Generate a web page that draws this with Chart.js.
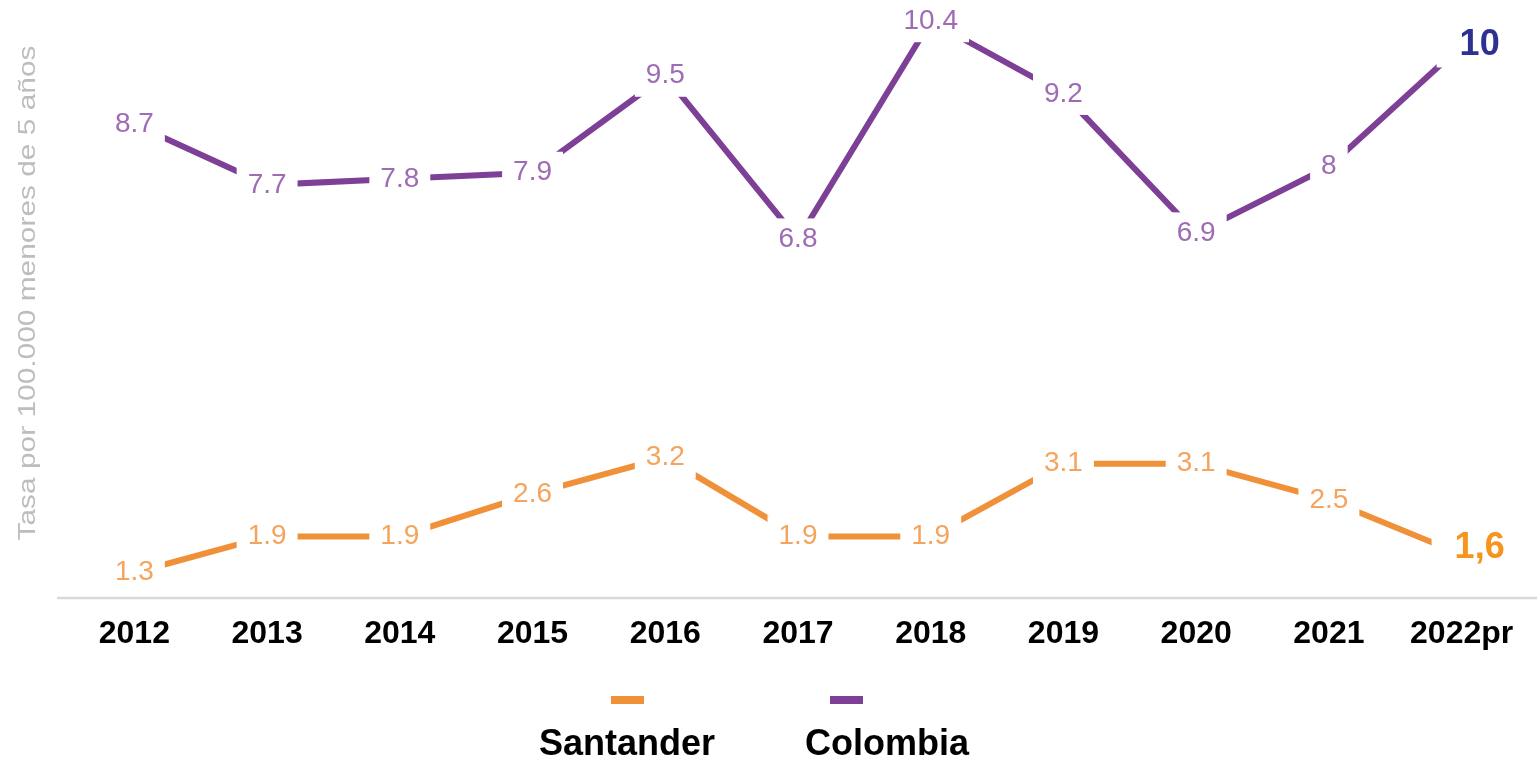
<!DOCTYPE html>
<html>
<head>
<meta charset="utf-8">
<script src="https://cdn.jsdelivr.net/npm/chart.js@4"></script>
<style>
  html, body { margin: 0; padding: 0; background: #fff; }
  #wrap { width: 1539px; height: 760px; }
</style>
</head>
<body>
<div id="wrap"><canvas id="chart" width="1539" height="760"></canvas></div>
<script>
  // data
  var years = ['2012', '2013', '2014', '2015', '2016', '2017', '2018', '2019', '2020', '2021', '2022pr'];
  var santander = [1.3, 1.9, 1.9, 2.6, 3.2, 1.9, 1.9, 3.1, 3.1, 2.5, 1.6];
  var colombia = [8.7, 7.7, 7.8, 7.9, 9.5, 6.8, 10.4, 9.2, 6.9, 8, 10];
  var seriesNames = ['Santander', 'Colombia'];
  var yTitle = 'Tasa por 100.000 menores de 5 años';

  var ORANGE = '#F0913A', PURPLE = '#7E3F96';
  var ORANGE_LBL = '#F4A45C', PURPLE_LBL = '#9E6BB4';
  var LAST_COLORS = ['#F7941D', '#2E3192'];

  function fmt(v, last){
    var s = String(v);
    return last ? s.replace('.', ',') : s;
  }

  // value labels sitting on the line, white box cuts the line
  var pointLabels = {
    id: 'pointLabels',
    afterDatasetsDraw: function(chart){
      var ctx = chart.ctx;
      var lblColors = [ORANGE_LBL, PURPLE_LBL];
      chart.data.datasets.forEach(function(ds, di){
        var meta = chart.getDatasetMeta(di);
        meta.data.forEach(function(pt, i){
          var last = i === ds.data.length - 1;
          var txt = fmt(ds.data[i], last);
          ctx.save();
          ctx.font = last ? 'bold 36px "Liberation Sans", Arial, sans-serif' : '28px "Liberation Sans", Arial, sans-serif';
          var w = ctx.measureText(txt).width;
          var cx = last ? pt.x + 18 : pt.x;
          var cy = last ? pt.y + (di === 0 ? -6 : 0) : pt.y;
          var padX = last ? 23 : 11;
          var h = last ? 44 : 42;
          ctx.fillStyle = '#fff';
          ctx.fillRect(cx - w / 2 - padX, cy - h / 2, w + padX * 2, h);
          ctx.fillStyle = last ? LAST_COLORS[di] : lblColors[di];
          ctx.textAlign = 'center';
          ctx.textBaseline = 'middle';
          ctx.fillText(txt, cx, cy);
          ctx.restore();
        });
      });
    }
  };

  // axis line, rotated y title and the legend under the axis
  var decor = {
    id: 'decor',
    afterDraw: function(chart){
      var ctx = chart.ctx;
      var a = chart.chartArea;
      ctx.save();
      ctx.strokeStyle = '#D9D9D9';
      ctx.lineWidth = 2.5;
      ctx.beginPath();
      ctx.moveTo(57, a.bottom + 1);
      ctx.lineTo(1537, a.bottom + 1);
      ctx.stroke();

      // y title, stretched along its length like the source
      ctx.translate(28, 293);
      ctx.rotate(-Math.PI / 2);
      ctx.font = '24px "Liberation Sans", Arial, sans-serif';
      var tw = ctx.measureText(yTitle).width;
      ctx.scale(495 / tw, 1);
      ctx.fillStyle = '#BDBDBD';
      ctx.textAlign = 'center';
      ctx.textBaseline = 'middle';
      ctx.fillText(yTitle, 0, 0);
      ctx.restore();

      // legend
      var marks = [{x: 611, color: ORANGE, tx: 627, align: 'center'}, {x: 830, color: PURPLE, tx: 805, align: 'left'}];
      ctx.save();
      ctx.font = 'bold 36px "Liberation Sans", Arial, sans-serif';
      ctx.textBaseline = 'alphabetic';
      marks.forEach(function(m, i){
        ctx.fillStyle = m.color;
        ctx.fillRect(m.x, 696, 33, 8);
        ctx.fillStyle = '#000';
        ctx.textAlign = m.align;
        ctx.fillText(seriesNames[i], m.tx, 755);
      });
      ctx.restore();
    }
  };

  new Chart(document.getElementById('chart'), {
    type: 'line',
    data: {
      labels: years,
      datasets: [
        {label: seriesNames[0], data: santander, borderColor: ORANGE, borderWidth: 6, pointRadius: 0, tension: 0, fill: false},
        {label: seriesNames[1], data: colombia, borderColor: PURPLE, borderWidth: 6, pointRadius: 0, tension: 0, fill: false}
      ]
    },
    options: {
      responsive: false,
      animation: false,
      layout: {padding: {left: 68, right: 11, top: 0, bottom: 0}},
      plugins: {legend: {display: false}, tooltip: {enabled: false}},
      scales: {
        x: {
          offset: true,
          grid: {display: false, drawTicks: false},
          border: {display: false},
          ticks: {color: '#000', padding: 18, font: {family: '"Liberation Sans", Arial, sans-serif', size: 32, weight: 'bold'}},
          afterFit: function(s){ s.height = 163; }
        },
        y: {display: false, min: 0.9, max: 10.75}
      }
    },
    plugins: [pointLabels, decor]
  });
</script>
</body>
</html>
